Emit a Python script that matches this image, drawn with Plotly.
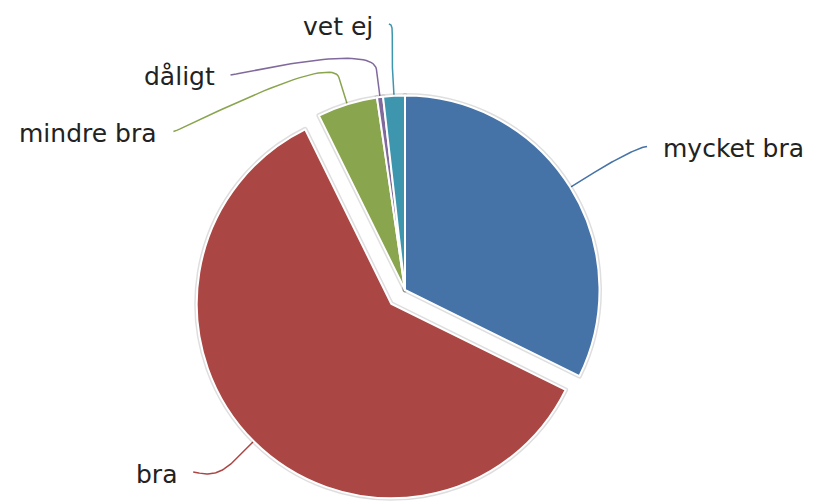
import numpy as np
import plotly.graph_objects as go

# ---- data ----
categories = ["mycket bra", "bra", "mindre bra", "dåligt", "vet ej"]
values = [32.3, 60.4, 5.0, 0.5, 1.8]
colors = ["#4572A7", "#AA4643", "#89A54E", "#80699B", "#3D96AE"]
pulls = [0, 0.1, 0, 0, 0]

# ---- layout geometry (screen coordinates; page body has an 8px margin) ----
W, H, PAD = 817, 504, 8
FW, FH = W - PAD, H - PAD
CX, CY, R = 405.0, 290.0, 194.5
fx, fy = CX - PAD, CY - PAD
maxpull = max(pulls)
box = 2 * R * (1 + maxpull)
dom_x = [(fx - box / 2) / FW, (fx + box / 2) / FW]
dom_y = [max(0.0, 1 - (fy + box / 2) / FH), min(1.0, 1 - (fy - box / 2) / FH)]

fig = go.Figure()

# soft shadow behind the pie
fig.add_trace(go.Pie(
    labels=categories, values=values, sort=False, direction="clockwise", rotation=0,
    pull=pulls, domain=dict(x=dom_x, y=dom_y), textinfo="none", hoverinfo="skip",
    marker=dict(colors=["white"] * len(values), line=dict(color="rgba(0,0,0,0.13)", width=5)),
    showlegend=False,
))
fig.add_trace(go.Pie(
    labels=categories, values=values, sort=False, direction="clockwise", rotation=0,
    pull=pulls, domain=dict(x=dom_x, y=dom_y), textinfo="none",
    marker=dict(colors=colors, line=dict(color="white", width=2)),
    showlegend=False,
))

# ---- data labels with connectors (computed from the values) ----
total = float(sum(values))
cum = np.concatenate([[0.0], np.cumsum(values)]) / total * 360.0
mids = np.radians((cum[:-1] + cum[1:]) / 2)

R_LY, R_LX = 272.0, 285.0
SPACING, YMIN, YMAX = 56.5, 24.0, 472.0
OFF = 28.0

n = len(values)
side = [1 if np.sin(a) > 0 else -1 for a in mids]
raw_y = [0.0] * n
for s in (1, -1):
    idx = [i for i in range(n) if side[i] == s]
    idx.sort(key=lambda i: CY - R_LY * np.cos(mids[i]))
    prev = -1e9
    for i in idx:
        y = CY - R_LY * np.cos(mids[i])
        y = min(max(y, prev + SPACING), YMAX)
        raw_y[i] = y
        prev = y
lab_x = [CX + side[i] * R_LX * np.sqrt(max(0.0, 1 - ((raw_y[i] - CY) / R_LY) ** 2)) for i in range(n)]
lab_y = [max(y, YMIN) for y in raw_y]

t = np.linspace(0, 1, 40)
for i in range(n):
    d = np.array([np.sin(mids[i]), -np.cos(mids[i])])
    c = np.array([CX, CY]) + pulls[i] * R * d
    p4 = c + R * d
    p2 = c + (R + OFF) * d
    cp2 = c + (R + 2 * OFF) * d
    p0 = np.array([lab_x[i], lab_y[i]])
    cp1 = np.array([lab_x[i] - side[i] * 6, lab_y[i]])
    B = ((1 - t) ** 3)[:, None] * p0 + (3 * (1 - t) ** 2 * t)[:, None] * cp1 \
        + (3 * (1 - t) * t ** 2)[:, None] * cp2 + (t ** 3)[:, None] * p2
    xs = list(B[:, 0]) + [p4[0]]
    ys = list(B[:, 1]) + [p4[1]]
    fig.add_trace(go.Scatter(x=xs, y=ys, mode="lines", line=dict(color=colors[i], width=1.5),
                             hoverinfo="skip", showlegend=False))
    gap = 14 if side[i] > 0 else 14
    fig.add_annotation(x=lab_x[i] + side[i] * gap, y=lab_y[i] + 2, text=categories[i],
                       xanchor="left" if side[i] > 0 else "right", yanchor="middle",
                       showarrow=False, font=dict(family="DejaVu Sans", size=25, color="#222222"))

fig.update_layout(
    width=FW, height=FH, margin=dict(l=0, r=0, t=0, b=0),
    paper_bgcolor="white", plot_bgcolor="rgba(0,0,0,0)",
    xaxis=dict(range=[PAD, W], visible=False, fixedrange=True),
    yaxis=dict(range=[H, PAD], visible=False, fixedrange=True),
    showlegend=False,
)
fig.write_html("out.html")
